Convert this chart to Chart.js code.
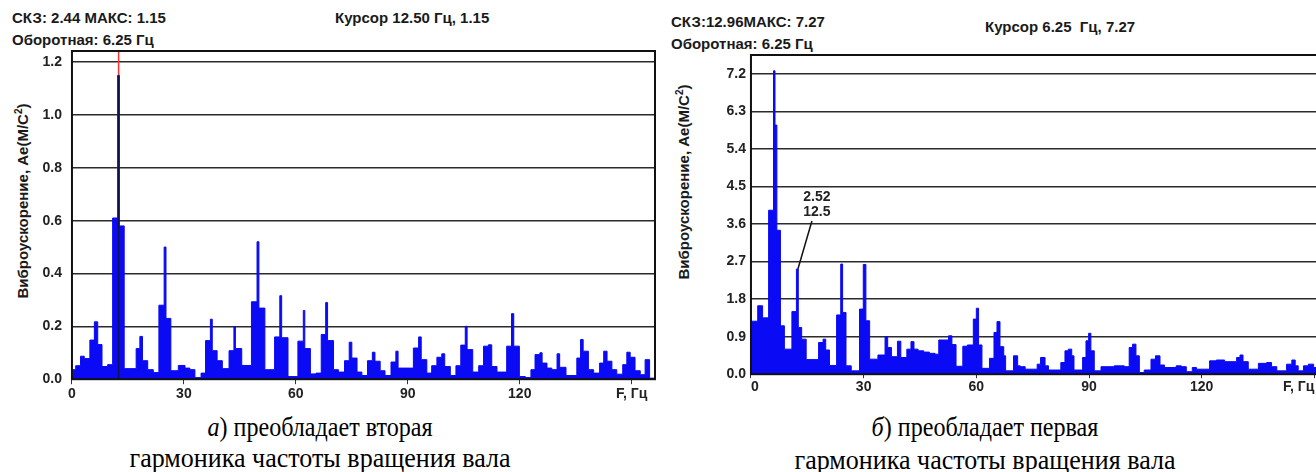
<!DOCTYPE html>
<html>
<head>
<meta charset="utf-8">
<script src="https://cdn.jsdelivr.net/npm/chart.js@4/dist/chart.umd.min.js"></script>
<style>
  html, body { margin: 0; padding: 0; background: #fff; overflow: hidden; }
  body { width: 1316px; height: 472px; position: relative; }
  .box { position: absolute; }
  .hdr { position: absolute; font: bold 15px "Liberation Sans", Arial, sans-serif; color: #1a1a1a; white-space: pre; line-height: 16px; }
  .ytitle { position: absolute; font: bold 15px "Liberation Sans", Arial, sans-serif; color: #1a1a1a; white-space: nowrap;
            transform: translate(-50%, -50%) rotate(-90deg); }
  .ytitle sup { font-size: 10px; }
  .cap { position: absolute; font: 28px "Liberation Serif", "Times New Roman", serif; color: #000; white-space: nowrap;
         transform: translateX(-50%) scaleX(0.86); line-height: 30px; }
  .cap.wide { transform: translateX(-50%) scaleX(0.93); }
</style>
</head>
<body>

<div class="hdr" style="left:12px; top:10px">СКЗ: 2.44 МАКС: 1.15</div>
<div class="hdr" style="left:12px; top:32px">Оборотная: 6.25 Гц</div>
<div class="hdr" style="left:335px; top:10px">Курсор 12.50 Гц, 1.15</div>

<div class="hdr" style="left:671px; top:14px">СКЗ:12.96МАКС: 7.27</div>
<div class="hdr" style="left:671px; top:36px">Оборотная: 6.25 Гц</div>
<div class="hdr" style="left:985px; top:19px">Курсор 6.25  Гц, 7.27</div>

<div class="ytitle" style="left:22px; top:201px">Виброускорение, Ae(М/С<sup>2</sup>)</div>
<div class="ytitle" style="left:683px; top:182px">Виброускорение, Ae(М/С<sup>2</sup>)</div>

<div class="box" style="left:0; top:0; width:662px; height:405px"><canvas id="specA"></canvas></div>
<div class="box" style="left:660px; top:0; width:660px; height:397px"><canvas id="specB"></canvas></div>

<div class="cap" style="left:320px; top:412px"><i>а</i>) преобладает вторая</div>
<div class="cap wide" style="left:320px; top:443px">гармоника частоты вращения вала</div>
<div class="cap" style="left:985px; top:412px"><i>б</i>) преобладает первая</div>
<div class="cap wide" style="left:985px; top:445px">гармоника частоты вращения вала</div>

<script>
// spectrum a: step breakpoints, Hz -> amplitude (value holds until next breakpoint)
var freqA = [0, 1.0, 2.3, 3.3, 4.8, 6.0, 6.9, 8.05, 9.55, 10.9, 12.25, 12.7, 14.0, 17.2, 18.2, 18.9,
  20.3, 21.8, 23.3, 24.7, 25.2, 26.5, 28.5, 30.3, 31.6, 32.95, 34.6, 35.8, 37.1, 37.6, 38.9,
  40.3, 42.1, 43.4, 43.8, 45.5, 48.1, 49.6, 50.1, 51.7, 54.3, 55.7, 56.2, 57.9, 60.55, 62.0,
  62.4, 63.9, 65.4, 66.8, 68.0, 68.5, 70.1, 71.4, 73.05, 74.3, 75.0, 76.4, 77.7, 79.2, 80.5,
  81.2, 82.6, 83.9, 85.5, 86.8, 87.4, 91.5, 92.9, 93.6, 95.1, 96.4, 97.8, 99.1, 99.9, 101.4,
  102.9, 104.2, 105.4, 105.9, 107.4, 109.0, 110.3, 111.6, 112.5, 113.9, 116.5, 117.8, 118.4,
  119.9, 121.5, 123.0, 124.1, 125.4, 126.0, 127.3, 128.6, 130.0, 130.7, 132.4, 135.3, 136.3,
  137.0, 138.4, 139.8, 141.4, 142.5, 143.4, 144.7, 146.0, 147.6, 148.7, 149.6, 150.9, 152.3,
  153.6, 154.8, 156.25];
var ampA = [0.036, 0.051, 0.087, 0.078, 0.148, 0.217, 0.131, 0.048, 0.055, 0.61, 1.15, 0.58, 0.04, 0.116, 0.162, 0.07,
  0.036, 0.025, 0.28, 0.5, 0.23, 0.032, 0.052, 0.042, 0.036, 0.006, 0.023, 0.146, 0.227, 0.108, 0.07,
  0.04, 0.108, 0.199, 0.116, 0.052, 0.293, 0.52, 0.269, 0.036, 0.16, 0.316, 0.157, 0.01, 0.144, 0.26,
  0.116, 0.02, 0.023, 0.169, 0.29, 0.146, 0.036, 0.027, 0.07, 0.14, 0.08, 0.027, 0.014, 0.07, 0.102,
  0.068, 0.032, 0.014, 0.065, 0.106, 0.042, 0.118, 0.16, 0.074, 0.023, 0.051, 0.083, 0.096, 0.048, 0.014,
  0.051, 0.129, 0.2, 0.112, 0.027, 0.051, 0.125, 0.13, 0.048, 0.027, 0.125, 0.248, 0.125,
  0.01, 0.006, 0.036, 0.093, 0.1, 0.061, 0.042, 0.036, 0.096, 0.045, 0.014, 0.08, 0.15,
  0.106, 0.036, 0.023, 0.061, 0.106, 0.068, 0.036, 0.019, 0.055, 0.102, 0.083, 0.032, 0.017,
  0.074, 0.004, 0.004];

// spectrum b
var freqB = [0, 1.8, 3.1, 4.7, 6.0, 6.4, 6.9, 7.85, 8.9, 10.9, 12.1, 12.6, 13.5, 14.7, 18.0, 19.2,
  19.9, 20.9, 22.8, 23.9, 24.4, 25.3, 26.7, 28.9, 29.9, 30.6, 31.6, 33.8, 35.7, 36.4, 37.4, 39.0,
  39.9, 41.5, 42.6, 43.4, 44.5, 46.0, 47.5, 49.0, 50.0, 52.6, 53.5, 54.6, 56.4, 57.6, 59.2, 60.0,
  60.6, 61.5, 63.5, 64.7, 65.5, 66.3, 67.3, 67.8, 69.9, 71.0, 71.7, 73.0, 76.2, 77.1, 78.3, 79.2,
  82.5, 83.6, 84.5, 85.4, 86.0, 88.3, 89.2, 89.9, 90.5, 91.4, 93.2, 96.7, 99.4, 100.7, 101.6,
  102.5, 103.4, 104.7, 106.5, 107.7, 108.9, 110.1, 113.2, 114.6, 115.9, 117.5, 118.6, 122.1,
  123.9, 126.1, 129.3, 130.2, 131.0, 132.4, 135.1, 137.3, 138.6, 140.0, 142.6, 144.0, 144.9,
  145.7, 147.1, 148.4, 149.8, 151.6];
var ampB = [1.27, 1.64, 1.35, 3.93, 7.27, 5.97, 3.45, 1.16, 0.6, 1.5, 2.52, 1.12, 0.84, 0.35, 0.76, 0.84,
  0.58, 0.21, 1.42, 2.64, 1.48, 0.2, 0.08, 1.56, 2.63, 1.28, 0.36, 0.46, 0.9, 0.64, 0.42, 0.79,
  0.4, 0.6, 0.78, 0.6, 0.56, 0.53, 0.5, 0.48, 0.82, 0.92, 0.71, 0.19, 0.67, 0.7, 1.32, 1.58,
  0.7, 0.14, 0.38, 1.0, 1.26, 0.66, 0.44, 0.08, 0.44, 0.2, 0.18, 0.12, 0.24, 0.4, 0.2, 0.1,
  0.28, 0.56, 0.6, 0.44, 0.1, 0.4, 0.8, 0.98, 0.56, 0.08, 0.18, 0.2, 0.18, 0.64, 0.72,
  0.44, 0.04, 0.1, 0.36, 0.44, 0.22, 0.16, 0.2, 0.18, 0.06, 0.16, 0.12, 0.32,
  0.34, 0.3, 0.4, 0.46, 0.3, 0.12, 0.26, 0.28, 0.18, 0.08, 0.24, 0.34, 0.2,
  0.08, 0.2, 0.24, 0.16, 0.16];

var yTicksA = [0, 0.2, 0.4, 0.6, 0.8, 1.0, 1.2];
var yTicksB = [0, 0.9, 1.8, 2.7, 3.6, 4.5, 5.4, 6.3, 7.2];
var xTicks = [0, 30, 60, 90, 120, 150];
var xUnit = 'F, Гц';

var cursorA = { f: 12.5, a: 1.15 };   // cursor on spectrum a
var markB = { f: 12.5, a: 2.52 };     // labelled line on spectrum b

var BLUE = '#0a0af5';
var FONT = { family: '"Liberation Sans", Arial, sans-serif', size: 14, weight: 'bold' };

function points(fs, as) {
  var out = [];
  for (var i = 0; i < fs.length; i++) out.push({ x: fs[i], y: as[i] });
  return out;
}

var frame = {
  id: 'frame',
  afterDatasetsDraw: function(chart) {
    var a = chart.chartArea, ctx = chart.ctx;
    ctx.save();
    ctx.strokeStyle = '#111';
    ctx.lineWidth = 2;
    ctx.strokeRect(a.left, a.top, a.right - a.left, a.bottom - a.top);
    ctx.restore();
  }
};

var cursorLine = {
  id: 'cursorLine',
  afterDatasetsDraw: function(chart) {
    var ctx = chart.ctx, a = chart.chartArea;
    var x = chart.scales.x.getPixelForValue(cursorA.f);
    var y = chart.scales.y.getPixelForValue(cursorA.a);
    ctx.save();
    ctx.lineWidth = 1.5;
    ctx.strokeStyle = '#ff3030';
    ctx.beginPath(); ctx.moveTo(x, a.top); ctx.lineTo(x, y); ctx.stroke();
    ctx.strokeStyle = '#10104a';
    ctx.beginPath(); ctx.moveTo(x, y); ctx.lineTo(x, a.bottom); ctx.stroke();
    ctx.restore();
  }
};

var peakLabel = {
  id: 'peakLabel',
  afterDatasetsDraw: function(chart) {
    var ctx = chart.ctx;
    var x = chart.scales.x.getPixelForValue(markB.f);
    var y = chart.scales.y.getPixelForValue(markB.a);
    ctx.save();
    ctx.strokeStyle = '#111';
    ctx.lineWidth = 1.5;
    ctx.beginPath(); ctx.moveTo(x, y); ctx.lineTo(x + 14, y - 48); ctx.stroke();
    ctx.fillStyle = '#222';
    ctx.font = 'bold 14px "Liberation Sans", Arial, sans-serif';
    ctx.textAlign = 'center';
    ctx.textBaseline = 'middle';
    ctx.fillText(markB.a.toFixed(2), x + 19, y - 72);
    ctx.fillText(String(markB.f), x + 19, y - 57);
    ctx.restore();
  }
};

function makeChart(id, fs, as, opt) {
  return new Chart(document.getElementById(id), {
    type: 'line',
    data: {
      datasets: [{
        data: points(fs, as),
        stepped: true,
        fill: 'origin',
        backgroundColor: BLUE,
        borderColor: BLUE,
        borderWidth: 1,
        pointRadius: 0
      }]
    },
    options: {
      responsive: true,
      maintainAspectRatio: false,
      animation: false,
      layout: { padding: opt.padding },
      plugins: { legend: { display: false }, tooltip: { enabled: false } },
      scales: {
        x: {
          type: 'linear',
          min: 0,
          max: opt.xMax,
          border: { display: false },
          grid: { drawOnChartArea: false, drawTicks: true, tickLength: opt.tickLen, color: '#333' },
          afterBuildTicks: function(s) { s.ticks = xTicks.map(function(v) { return { value: v }; }); },
          ticks: {
            align: opt.xAlign,
            padding: opt.xPad,
            color: '#222',
            font: FONT,
            maxRotation: 0,
            autoSkip: false,
            callback: function(v) { return v === 150 ? xUnit : v; }
          }
        },
        y: {
          min: 0,
          max: opt.yMax,
          border: { display: false },
          grid: { color: '#2b2b2b', lineWidth: 1.6, drawTicks: false },
          afterBuildTicks: function(s) { s.ticks = opt.yTicks.map(function(v) { return { value: v }; }); },
          ticks: {
            padding: opt.yPad,
            color: '#222',
            font: FONT,
            callback: function(v) { return v.toFixed(1); }
          }
        }
      }
    },
    plugins: opt.plugins
  });
}

makeChart('specA', freqA, ampA, {
  padding: { left: 32.5, top: 51, right: 7, bottom: 0 },
  xMax: 156.25, yMax: 1.242, yTicks: yTicksA,
  tickLen: 5, xPad: 2, yPad: 10, xAlign: 'center',
  plugins: [cursorLine, frame]
});

makeChart('specB', freqB, ampB, {
  padding: { left: 61.5, top: 55, right: 0, bottom: 0 },
  xMax: 151.5, yMax: 7.65, yTicks: yTicksB,
  tickLen: 4, xPad: 1, yPad: 5, xAlign: 'inner',
  plugins: [peakLabel, frame]
});
</script>
</body>
</html>
